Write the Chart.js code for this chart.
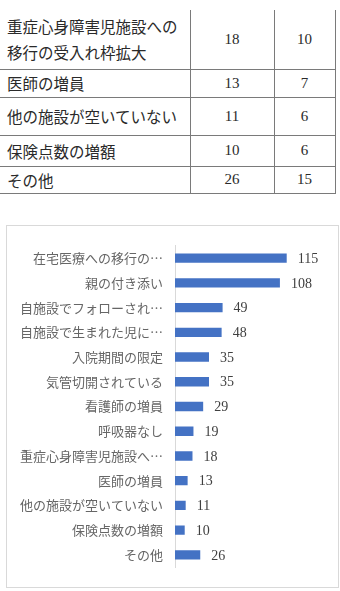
<!DOCTYPE html>
<html>
<head>
<meta charset="utf-8">
<script src="https://cdn.jsdelivr.net/npm/chart.js@4/dist/chart.umd.min.js"></script>
<style>
  html, body { margin: 0; padding: 0; background: #fff; width: 340px; height: 591px; overflow: hidden; }
  #tbl { position: absolute; left: 0; top: 10px; border-collapse: collapse; table-layout: fixed;
         font-family: "Noto Sans CJK JP", sans-serif; font-size: 15.5px; color: #2a2a2a; }
  #tbl td { border-bottom: 1px solid #7a7a7a; border-right: 1px solid #7a7a7a; padding: 0; }
  #tbl td.name { padding-left: 7px; text-align: left; line-height: 26px; }
  #tbl td.num { text-align: center; font-family: "Liberation Serif", serif; font-size: 15px; }
  #box { position: absolute; left: 6px; top: 225px; width: 331px; height: 361px; border: 1px solid #d9d9d9; }
</style>
</head>
<body>
<table id="tbl">
  <colgroup><col style="width:190px"><col style="width:84px"><col style="width:61px"></colgroup>
  <tbody id="tbody"></tbody>
</table>
<div id="box"><canvas id="c" width="331" height="361"></canvas></div>
<script>
// table rows
const tableNames = ['重症心身障害児施設への<br>移行の受入れ枠拡大', '医師の増員', '他の施設が空いていない', '保険点数の増額', 'その他']
const tableCounts = [18, 13, 11, 10, 26]
const tablePercents = [10, 7, 6, 6, 15]
const rowHeights = [59, 28, 38, 31, 26]

// chart data
const labels = [
  '在宅医療への移行の…', '親の付き添い', '自施設でフォローされ…', '自施設で生まれた児に…',
  '入院期間の限定', '気管切開されている', '看護師の増員', '呼吸器なし',
  '重症心身障害児施設へ…', '医師の増員', '他の施設が空いていない', '保険点数の増額', 'その他'
]
const values = [115, 108, 49, 48, 35, 35, 29, 19, 18, 13, 11, 10, 26]

const tbody = document.getElementById('tbody')
tableNames.forEach((name, i) => {
  const tr = document.createElement('tr')
  tr.style.height = rowHeights[i] + 'px'
  tr.innerHTML = '<td class="name">' + name + '</td><td class="num">' + tableCounts[i] +
    '</td><td class="num">' + tablePercents[i] + '</td>'
  tbody.appendChild(tr)
})

const valueLabels = {
  id: 'valueLabels',
  afterDatasetsDraw(chart) {
    const ctx = chart.ctx
    const meta = chart.getDatasetMeta(0)
    ctx.save()
    ctx.font = '14px "Liberation Serif", serif'
    ctx.fillStyle = '#404040'
    ctx.textAlign = 'left'
    ctx.textBaseline = 'middle'
    meta.data.forEach((bar, i) => {
      ctx.fillText(String(values[i]), bar.x + 11, bar.y + 1)
    })
    ctx.restore()
  }
}

new Chart(document.getElementById('c'), {
  type: 'bar',
  data: {
    labels: labels,
    datasets: [{
      data: values,
      backgroundColor: '#4472C4',
      categoryPercentage: 1,
      barPercentage: 0.38
    }]
  },
  options: {
    indexAxis: 'y',
    responsive: false,
    animation: false,
    events: [],
    layout: { padding: { top: 17, bottom: 15, right: 27, left: 0 } },
    plugins: { legend: { display: false }, tooltip: { enabled: false } },
    scales: {
      x: { display: false, min: 0, max: 140 },
      y: {
        afterFit(scale) { scale.width = 168 },
        grid: { display: false, drawTicks: false },
        border: { display: true, color: '#d9d9d9', width: 1 },
        ticks: {
          autoSkip: false,
          padding: 12,
          color: '#666666',
          font: { family: '"Noto Sans CJK JP", sans-serif', size: 13 }
        }
      }
    }
  },
  plugins: [valueLabels]
})
</script>
</body>
</html>
